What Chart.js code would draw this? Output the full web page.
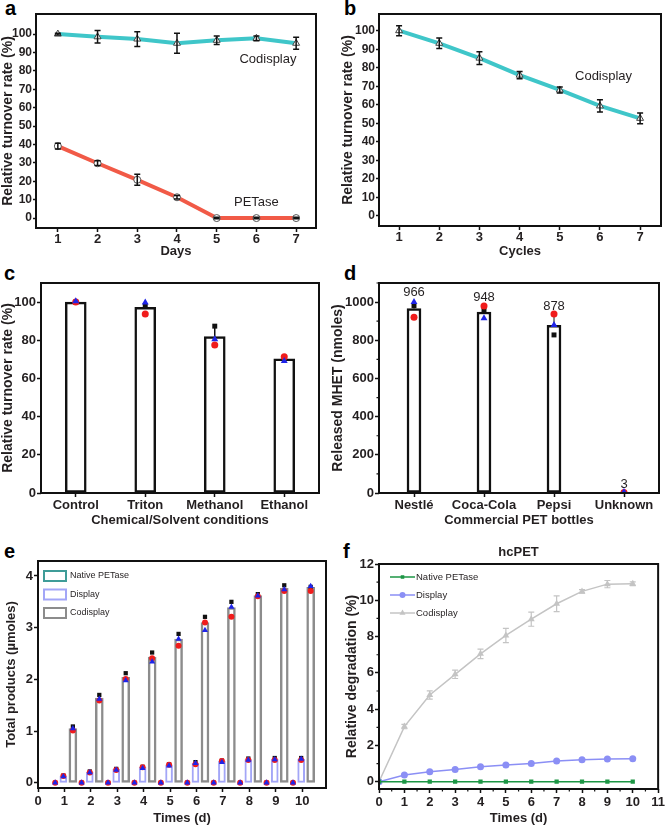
<!DOCTYPE html>
<html lang="en">
<head>
<meta charset="UTF-8">
<title>PETase codisplay panels</title>
<script src="https://cdn.jsdelivr.net/npm/chart.js"></script>
<style>
  body { margin: 0; width: 667px; height: 826px; position: relative; overflow: hidden; background: #fff; }
  canvas { position: absolute; }
  .tag { position: absolute; font: bold 20px "Liberation Sans", Arial, sans-serif; line-height: 20px; color: #000; }
</style>
</head>
<body>
<div class="tag" style="left:5px;top:-2px">a</div>
<div class="tag" style="left:344px;top:-2px">b</div>
<div class="tag" style="left:4px;top:263px">c</div>
<div class="tag" style="left:344px;top:263px">d</div>
<div class="tag" style="left:4px;top:541px">e</div>
<div class="tag" style="left:343px;top:541px">f</div>

<canvas id="chartA" width="330" height="262" style="left:0;top:0"></canvas>
<canvas id="chartB" width="337" height="262" style="left:330px;top:0"></canvas>
<canvas id="chartC" width="330" height="268" style="left:0;top:262px"></canvas>
<canvas id="chartD" width="337" height="268" style="left:330px;top:262px"></canvas>
<canvas id="chartE" width="330" height="286" style="left:0;top:540px"></canvas>
<canvas id="chartF" width="337" height="286" style="left:330px;top:540px"></canvas>

<script>
// a: turnover over days
const daysA = [1, 2, 3, 4, 5, 6, 7];
const codisplayA = [100, 98.5, 97.3, 95, 96.6, 97.7, 95];
const codisplayAErr = [0.5, 3.4, 4, 5.4, 2.3, 1.3, 3.2];
const petaseA = [39.1, 29.8, 20.8, 11.3, 0, 0, 0];
const petaseAErr = [1.6, 1.3, 3, 1, 0.4, 0.4, 0.4];

// b: reuse cycles
const cyclesB = [1, 2, 3, 4, 5, 6, 7];
const codisplayB = [100, 93.2, 85.2, 76, 68, 59.4, 52.7];
const codisplayBErr = [2.7, 2.8, 3.4, 2, 1.6, 3.3, 2.9];

// c: chemical / solvent conditions
const conditions = ['Control', 'Triton', 'Methanol', 'Ethanol'];
const turnoverC = [100, 97.2, 81.9, 70.3];
const turnoverCErr = [0.3, 3.1, 5, 1.2];
const repBlackC = [100, 98.1, 87.4, 70.5];
const repRedC = [100, 93.7, 77.5, 71.4];
const repBlueC = [100.4, 99.8, 80.6, 69.1];

// d: commercial PET bottles
const bottles = ['Nestlé', 'Coca-Cola', 'Pepsi', 'Unknown'];
const mhetD = [966, 948, 878, 3];
const mhetDErr = [42, 33, 55, 2];
const repBlackD = [981, 958, 828, 1];
const repRedD = [920, 979, 937, 3];
const repBlueD = [1000, 915, 880, 5];

// e: total products per day
const daysE = [1, 2, 3, 4, 5, 6, 7, 8, 9, 10];
const nativeE = [0, 0, 0, 0, 0, 0, 0, 0, 0, 0];
const displayE = [0.13, 0.21, 0.26, 0.30, 0.35, 0.38, 0.42, 0.45, 0.46, 0.46];
const codisplayE = [1.05, 1.64, 2.04, 2.43, 2.78, 3.10, 3.39, 3.62, 3.76, 3.78];
const natBlackE = [0, 0, 0, 0, 0, 0, 0, 0, 0, 0];
const natRedE = [0, 0, 0, 0, 0, 0, 0, 0, 0, 0];
const natBlueE = [0, 0, 0, 0, 0, 0, 0, 0, 0, 0];
const dispBlackE = [0.14, 0.22, 0.27, 0.31, 0.36, 0.40, 0.43, 0.47, 0.48, 0.48];
const dispRedE = [0.13, 0.20, 0.25, 0.30, 0.35, 0.36, 0.42, 0.44, 0.44, 0.44];
const dispBlueE = [0.12, 0.20, 0.25, 0.28, 0.33, 0.38, 0.40, 0.44, 0.45, 0.46];
const codBlackE = [1.09, 1.70, 2.12, 2.52, 2.88, 3.21, 3.50, 3.65, 3.82, 3.79];
const codRedE = [1.01, 1.59, 2.01, 2.41, 2.65, 3.10, 3.21, 3.61, 3.71, 3.71];
const codBlueE = [1.05, 1.62, 1.98, 2.34, 2.78, 2.95, 3.40, 3.62, 3.74, 3.80];

// f: hcPET degradation
const daysF = [0, 1, 2, 3, 4, 5, 6, 7, 8, 9, 10];
const nativeF = [0, 0, 0, 0, 0, 0, 0, 0, 0, 0, 0];
const displayF = [0, 0.37, 0.55, 0.68, 0.83, 0.92, 1.01, 1.14, 1.21, 1.25, 1.27];
const codisplayF = [0, 3.04, 4.78, 5.92, 7.05, 8.06, 8.96, 9.81, 10.49, 10.89, 10.91];
const codisplayFErr = [0, 0.12, 0.23, 0.23, 0.26, 0.39, 0.39, 0.43, 0.1, 0.2, 0.1];

const FONT = '"Liberation Sans", Arial, Helvetica, sans-serif';
const INK = '#231f20';
Chart.defaults.font.family = FONT;
Chart.defaults.color = INK;
Chart.defaults.animation = false;
Chart.defaults.plugins.legend.display = false;
Chart.defaults.plugins.tooltip.enabled = false;

const RED = '#f01c1c', BLUE = '#1f24e8', BLACK = '#111';

// black box round the plot area
const frame = {
  id: 'frame',
  afterDatasetsDraw(chart) {
    const {ctx, chartArea: a} = chart;
    ctx.save();
    ctx.strokeStyle = '#111';
    ctx.lineWidth = 2;
    ctx.strokeRect(a.left, a.top, a.right - a.left, a.bottom - a.top);
    ctx.restore();
  }
};

// error bars from dataset.errors, drawn right after their dataset
const errorBars = {
  id: 'errorBars',
  afterDatasetDraw(chart, args) {
    const ds = chart.data.datasets[args.index];
    if (!ds.errors) return;
    const meta = args.meta;
    const yScale = chart.scales[meta.yAxisID];
    const ctx = chart.ctx;
    const cap = ds.errorCap == null ? 3 : ds.errorCap;
    ctx.save();
    ctx.strokeStyle = ds.errorColor || '#111';
    ctx.lineWidth = ds.errorWidth || 1.5;
    meta.data.forEach((el, i) => {
      const v = meta.controller.getParsed(i).y;
      const e = ds.errors[i];
      if (!e) return;
      const x = el.x;
      const top = yScale.getPixelForValue(v + e);
      const bot = yScale.getPixelForValue(ds.errorUpOnly ? v : v - e);
      ctx.beginPath();
      ctx.moveTo(x, top); ctx.lineTo(x, bot);
      ctx.moveTo(x - cap, top); ctx.lineTo(x + cap, top);
      if (!ds.errorUpOnly) { ctx.moveTo(x - cap, bot); ctx.lineTo(x + cap, bot); }
      ctx.stroke();
    });
    ctx.restore();
  }
};
Chart.register(frame, errorBars);

// small unlabelled ticks halfway between the labelled ones
function makeMinorTicks(axes) {
  return {
    id: 'minorTicks',
    afterDraw(chart) {
      const {ctx, chartArea: a} = chart;
      ctx.save();
      ctx.strokeStyle = '#111';
      ctx.lineWidth = 1.2;
      axes.forEach(id => {
        const s = chart.scales[id];
        const vals = s.ticks.map(t => t.value);
        const step = vals[1] - vals[0];
        ctx.beginPath();
        for (let v = vals[0] - step / 2; v <= s.max; v += step) {
          if (v < s.min) continue;
          const p = s.getPixelForValue(v);
          if (s.isHorizontal()) { ctx.moveTo(p, a.bottom); ctx.lineTo(p, a.bottom + 2.5); }
          else { ctx.moveTo(a.left, p); ctx.lineTo(a.left - 2.5, p); }
        }
        ctx.stroke();
      });
      ctx.restore();
    }
  };
}

// text placed at data coordinates
function makeNotes(items, size) {
  return {
    id: 'notes',
    afterDatasetsDraw(chart) {
      const ctx = chart.ctx;
      ctx.save();
      ctx.font = (size || 13) + 'px ' + FONT;
      ctx.fillStyle = INK;
      ctx.textAlign = 'center';
      ctx.textBaseline = 'middle';
      items.forEach(n => {
        ctx.fillText(n.text, chart.scales.x.getPixelForValue(n.x), chart.scales.y.getPixelForValue(n.y));
      });
      ctx.restore();
    }
  };
}

function ticksFont(size) { return { size: size, weight: 'bold' }; }

function valueAxis(min, max, step, title, width, opts) {
  opts = opts || {};
  return {
    min: min, max: max,
    afterBuildTicks: s => { s.ticks = s.ticks.filter(t => t.value >= 0 && t.value <= (opts.lastTick == null ? max : opts.lastTick)); },
    ticks: { stepSize: step, font: ticksFont(opts.tickSize || 13), padding: 1, includeBounds: false, color: INK, callback: v => String(v) },
    grid: { drawOnChartArea: false, tickLength: opts.tickLength || 4, tickWidth: 1.5, tickColor: '#111' },
    border: { display: false },
    title: { display: true, text: title, font: { size: opts.titleSize || 14, weight: 'bold' }, padding: 0, color: INK },
    afterFit: s => { s.width = width; }
  };
}

function linearX(min, max, title, height, opts) {
  opts = opts || {};
  return {
    type: 'linear', min: min, max: max, offset: false,
    afterBuildTicks: s => { s.ticks = s.ticks.filter(t => Number.isInteger(t.value) && t.value <= (opts.lastTick == null ? max : opts.lastTick)); },
    ticks: { stepSize: 1, font: ticksFont(opts.tickSize || 13), padding: opts.padding == null ? 1 : opts.padding, includeBounds: false, maxRotation: 0, autoSkip: false, color: INK },
    grid: { drawOnChartArea: false, offset: false, tickLength: 4, tickWidth: 1.5, tickColor: '#111' },
    border: { display: false },
    title: { display: true, text: title, font: { size: 13, weight: 'bold' }, padding: { top: 0, bottom: opts.titlePad == null ? 2 : opts.titlePad }, color: INK },
    afterFit: s => { s.height = height; }
  };
}

function categoryX(title, height) {
  return {
    offset: true,
    grid: { drawOnChartArea: false, offset: false, tickLength: 4, tickWidth: 1.5, tickColor: '#111' },
    border: { display: false },
    ticks: { font: ticksFont(13), padding: 1, maxRotation: 0, autoSkip: false, color: INK },
    title: { display: true, text: title, font: { size: 13, weight: 'bold' }, padding: { top: 0, bottom: 2 }, color: INK },
    afterFit: s => { s.height = height; }
  };
}

function xy(xs, ys, shift) { return xs.map((x, i) => ({ x: x + (shift || 0), y: ys[i] })); }

function replicate(label, data, style, color, radius, order) {
  return {
    type: 'line', label: label, data: data, showLine: false, order: order || 1,
    pointStyle: style, pointRadius: radius, pointBackgroundColor: color, pointBorderColor: color, pointBorderWidth: 0
  };
}

// ---------- a ----------
new Chart(document.getElementById('chartA'), {
  type: 'line',
  data: {
    datasets: [
      {
        label: 'Codisplay', data: xy(daysA, codisplayA), errors: codisplayAErr,
        borderColor: '#3fc6c9', borderWidth: 4, pointStyle: 'triangle', pointRadius: 4,
        pointBackgroundColor: '#fff', pointBorderColor: '#444', pointBorderWidth: 1
      },
      {
        label: 'PETase', data: xy(daysA, petaseA), errors: petaseAErr,
        borderColor: '#f15a47', borderWidth: 4, pointStyle: 'circle', pointRadius: 3.5,
        pointBackgroundColor: '#fff', pointBorderColor: '#555', pointBorderWidth: 1
      }
    ]
  },
  options: {
    responsive: false,
    layout: { padding: { left: 0, top: 14, right: 14, bottom: 0 } },
    scales: {
      x: linearX(0.45, 7.5, 'Days', 34, { padding: 0, titlePad: 3 }),
      y: valueAxis(-5.4, 110.9, 10, 'Relative turnover rate (%)', 36, { tickSize: 12, lastTick: 100, tickLength: 3 })
    }
  },
  plugins: [makeNotes([{ text: 'Codisplay', x: 6.29, y: 86 }, { text: 'PETase', x: 6.0, y: 8.7 }])]
});

// ---------- b ----------
new Chart(document.getElementById('chartB'), {
  type: 'line',
  data: {
    datasets: [{
      label: 'Codisplay', data: xy(cyclesB, codisplayB), errors: codisplayBErr,
      borderColor: '#3fc6c9', borderWidth: 4, pointStyle: 'triangle', pointRadius: 4,
      pointBackgroundColor: '#fff', pointBorderColor: '#444', pointBorderWidth: 1
    }]
  },
  options: {
    responsive: false,
    layout: { padding: { left: 10, top: 14, right: 6, bottom: 0 } },
    scales: {
      x: linearX(0.5, 7.52, 'Cycles', 36, { padding: 0, titlePad: 3 }),
      y: valueAxis(-5.4, 109, 10, 'Relative turnover rate (%)', 39, { tickSize: 12, lastTick: 100, tickLength: 3 })
    }
  },
  plugins: [makeNotes([{ text: 'Codisplay', x: 6.09, y: 75.2 }])]
});

// ---------- c ----------
new Chart(document.getElementById('chartC'), {
  type: 'bar',
  data: {
    labels: conditions,
    datasets: [
      {
        label: 'Turnover', data: turnoverC, errors: turnoverCErr, errorUpOnly: true, errorCap: 0, errorWidth: 1.5,
        backgroundColor: '#fff', borderColor: '#111', borderWidth: 2.5, borderSkipped: false, barThickness: 21, order: 2
      },
      replicate('rep3', repBlueC, 'triangle', BLUE, 4),
      replicate('rep2', repRedC, 'circle', RED, 3.5),
      replicate('rep1', repBlackC, 'rect', BLACK, 3.5)
    ]
  },
  options: {
    responsive: false,
    layout: { padding: { left: 0, top: 21, right: 11, bottom: 0 } },
    scales: {
      x: categoryX('Chemical/Solvent conditions', 37),
      y: valueAxis(0, 110, 20, 'Relative turnover rate (%)', 41, { lastTick: 100 })
    }
  }
});

// ---------- d ----------
new Chart(document.getElementById('chartD'), {
  type: 'bar',
  data: {
    labels: bottles,
    datasets: [
      {
        label: 'MHET', data: mhetD, errors: mhetDErr, errorUpOnly: true, errorCap: 0, errorWidth: 1,
        backgroundColor: '#fff', borderColor: '#111', borderWidth: 2.5, borderSkipped: false, barThickness: 14, order: 2
      },
      replicate('rep3', repBlueD, 'triangle', BLUE, 4),
      replicate('rep2', repRedD, 'circle', RED, 3.5),
      replicate('rep1', repBlackD, 'rect', BLACK, 3.5)
    ]
  },
  options: {
    responsive: false,
    layout: { padding: { left: 0, top: 21, right: 8, bottom: 0 } },
    scales: {
      x: categoryX('Commercial PET bottles', 37),
      y: valueAxis(0, 1100, 200, 'Released MHET (nmoles)', 49, { lastTick: 1000 })
    }
  },
  plugins: [makeMinorTicks(['y']), {
    id: 'valueLabels',
    afterDatasetsDraw(chart) {
      const ctx = chart.ctx;
      const meta = chart.getDatasetMeta(0);
      const y = chart.scales.y;
      ctx.save();
      ctx.font = '13px ' + FONT;
      ctx.fillStyle = INK;
      ctx.textAlign = 'center';
      ctx.textBaseline = 'middle';
      meta.data.forEach((bar, i) => {
        ctx.fillText(String(mhetD[i]), bar.x, y.getPixelForValue(mhetD[i] + mhetDErr[i]) - 8);
      });
      ctx.restore();
    }
  }]
});

// ---------- e ----------
const NATIVE_SHIFT = -0.35, DISPLAY_SHIFT = -0.04, COD_SHIFT = 0.32;
function groupPoints(nat, disp, cod) {
  return xy(daysE, nat, NATIVE_SHIFT).concat(xy(daysE, disp, DISPLAY_SHIFT), xy(daysE, cod, COD_SHIFT));
}
new Chart(document.getElementById('chartE'), {
  type: 'bar',
  data: {
    datasets: [
      { label: 'Native PETase', data: xy(daysE, nativeE, NATIVE_SHIFT), backgroundColor: '#fff', borderColor: '#3f9c98', borderWidth: 2, borderSkipped: false, barThickness: 6, grouped: false, order: 2 },
      { label: 'Display', data: xy(daysE, displayE, DISPLAY_SHIFT), backgroundColor: '#fff', borderColor: '#a3a6f7', borderWidth: 2, borderSkipped: false, barThickness: 7, grouped: false, order: 2 },
      { label: 'Codisplay', data: xy(daysE, codisplayE, COD_SHIFT), backgroundColor: '#fff', borderColor: '#8c8c8c', borderWidth: 2.5, borderSkipped: false, barThickness: 8, grouped: false, order: 2 },
      replicate('', groupPoints(natBlueE, dispBlueE, codBlueE), 'triangle', BLUE, 3.5),
      replicate('', groupPoints(natRedE, dispRedE, codRedE), 'circle', RED, 3),
      replicate('', groupPoints(natBlackE, dispBlackE, codBlackE), 'rect', BLACK, 3)
    ]
  },
  options: {
    responsive: false,
    layout: { padding: { left: 4, top: 21, right: 4, bottom: 0 } },
    scales: {
      x: linearX(0, 10.9, 'Times (d)', 38, { lastTick: 10, padding: 2, titlePad: 0 }),
      y: valueAxis(-0.1, 4.29, 1, 'Total products (\u00b5moles)', 34, { titleSize: 13, lastTick: 4 })
    }
  },
  plugins: [{
    id: 'boxLegend',
    afterDraw(chart) {
      const {ctx, chartArea} = chart;
      ctx.save();
      ctx.font = '9px ' + FONT;
      ctx.textBaseline = 'middle';
      chart.data.datasets.slice(0, 3).forEach((ds, i) => {
        const x0 = chartArea.left + 6, y0 = chartArea.top + 10 + i * 18.5;
        ctx.fillStyle = '#fff';
        ctx.fillRect(x0, y0, 22, 10);
        ctx.strokeStyle = ds.borderColor;
        ctx.lineWidth = 2;
        ctx.strokeRect(x0, y0, 22, 10);
        ctx.fillStyle = INK;
        ctx.fillText(ds.label, x0 + 26, y0 + 5);
      });
      ctx.restore();
    }
  }]
});

// ---------- f ----------
new Chart(document.getElementById('chartF'), {
  type: 'line',
  data: {
    datasets: [
      { label: 'Native PETase', data: xy(daysF, nativeF), borderColor: '#1d9645', borderWidth: 1.5, pointStyle: 'rect', pointRadius: 3, pointBackgroundColor: '#1d9645', pointBorderColor: '#1d9645', pointBorderWidth: 0 },
      { label: 'Display', data: xy(daysF, displayF), borderColor: '#8b8ff5', borderWidth: 1.5, pointStyle: 'circle', pointRadius: 3.5, pointBackgroundColor: '#8b8ff5', pointBorderColor: '#8b8ff5', pointBorderWidth: 0 },
      { label: 'Codisplay', data: xy(daysF, codisplayF), errors: codisplayFErr, errorColor: '#c4c4c4', errorWidth: 1.2, borderColor: '#c4c4c4', borderWidth: 1.5, pointStyle: 'triangle', pointRadius: 4, pointBackgroundColor: '#c4c4c4', pointBorderColor: '#c4c4c4', pointBorderWidth: 0 }
    ]
  },
  options: {
    responsive: false,
    layout: { padding: { left: 14, top: 24, right: 5, bottom: 0 } },
    scales: {
      x: linearX(0, 11, 'Times (d)', 37, { padding: 2, titlePad: 0 }),
      y: valueAxis(-0.4, 12, 2, 'Relative degradation (%)', 35, { lastTick: 12 })
    }
  },
  plugins: [makeMinorTicks(['x', 'y']), {
    id: 'lineLegend',
    afterDraw(chart) {
      const {ctx, chartArea} = chart;
      ctx.save();
      // panel title over the plot area
      ctx.font = 'bold 13px ' + FONT;
      ctx.fillStyle = INK;
      ctx.textAlign = 'center';
      ctx.textBaseline = 'middle';
      ctx.fillText('hcPET', (chartArea.left + chartArea.right) / 2, chartArea.top - 12);
      // legend: line with marker
      ctx.font = '9.5px ' + FONT;
      ctx.textAlign = 'left';
      chart.data.datasets.forEach((ds, i) => {
        const x0 = chartArea.left + 11, y = chartArea.top + 13 + i * 18;
        ctx.strokeStyle = ds.borderColor;
        ctx.lineWidth = ds.borderWidth;
        ctx.beginPath(); ctx.moveTo(x0, y); ctx.lineTo(x0 + 25, y); ctx.stroke();
        ctx.fillStyle = ds.pointBackgroundColor;
        Chart.helpers.drawPoint(ctx, { pointStyle: ds.pointStyle, radius: ds.pointRadius - 0.5, rotation: 0, borderWidth: 0 }, x0 + 12.5, y);
        ctx.fillStyle = INK;
        ctx.fillText(ds.label, x0 + 26, y);
      });
      ctx.restore();
    }
  }]
});
</script>
</body>
</html>
